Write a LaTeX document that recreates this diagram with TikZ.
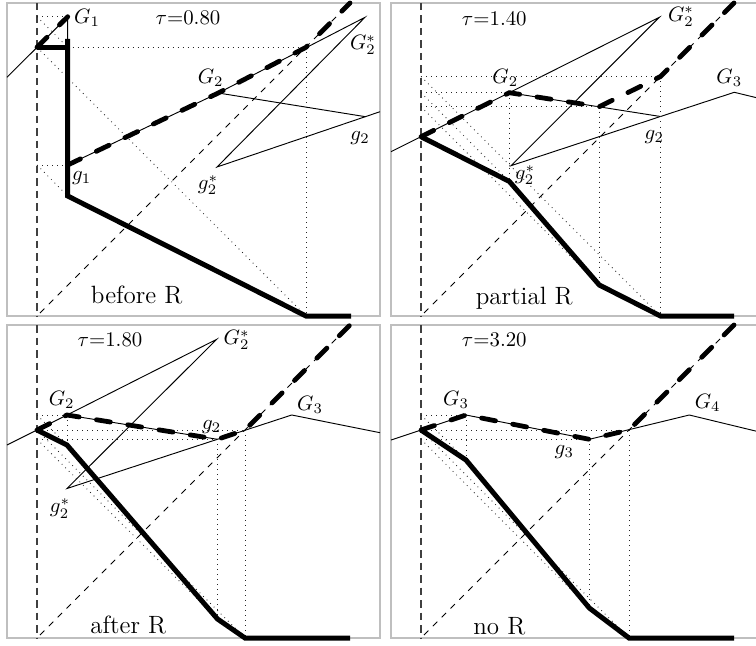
\documentclass[tikz,border=0pt]{standalone}
\usepackage{tikz}
\begin{document}
\begin{tikzpicture}[x=0.48pt,y=-0.48pt,
  framebox/.style={draw=black!25,line width=0.5pt},
  axisline/.style={black!75,line width=0.6pt,dash pattern=on 3.6pt off 2.4pt},
  diagline/.style={black,line width=0.4pt,dash pattern=on 3pt off 3pt},
  thinline/.style={black,line width=0.45pt},
  proj/.style={black!85,line width=0.4pt,dotted},
  upperline/.style={black,line width=2.3pt,dash pattern=on 6.8pt off 8.4pt,line cap=round},
  lowerline/.style={black,line width=2.4pt},
  lbl/.style={inner sep=0pt},
  captext/.style={inner sep=0pt,font=\large}]
\useasboundingbox (0,0) rectangle (756,645);
\clip (0,0) rectangle (756,645);

%%%%%%%%%%%%%%%% Panel 1
\draw[framebox] (7,3) rectangle (380,316);
\coordinate (p1top) at (37,3); \coordinate (p1bot) at (37,316);
\coordinate (p1d0) at (40,313); \coordinate (p1E) at (350,3);
\coordinate (p1W) at (7,77.3);
\coordinate (p1L) at (37,47.3);
\coordinate (p1G1) at (67.7,16.7);
\coordinate (p1g1) at (67.7,165);
\coordinate (p1G2) at (218.3,93);
\coordinate (p1K) at (306,47.3);
\coordinate (p1Gs) at (365,17.3);
\coordinate (p1gs) at (217,167);
\coordinate (p1g2) at (365.5,116.7);
\coordinate (p1R) at (380,111.7);
\coordinate (p1aG1) at (37,16.7);
\coordinate (p1ag1) at (37,165);
\coordinate (p1lG1) at (67.7,47.3);
\coordinate (p1lg1) at (67.7,196);
\coordinate (p1lK) at (306,316);
\coordinate (p1lE) at (351,316);
\coordinate (p1vt) at (67.7,39);
\draw[axisline] (p1top) -- (p1bot);
\draw[diagline] (p1d0) -- (p1E);
\draw[thinline] (p1W) -- (p1G1) -- (p1g1) -- (p1G2) -- (p1Gs) -- (p1gs) -- (p1R);
\draw[thinline] (p1G2) -- (p1g2);
\draw[proj] (p1aG1) -- (p1G1);
\draw[proj] (p1aG1) -- (p1lG1);
\draw[proj] (p1ag1) -- (p1g1);
\draw[proj] (p1ag1) -- (p1lg1);
\draw[proj] (p1lG1) -- (p1K);
\draw[proj] (p1L) -- (p1lK);
\draw[proj] (p1K) -- (p1lK);
\draw[lowerline] (p1L) -- (p1lG1);
\draw[lowerline] (p1vt) -- (p1lg1) -- (p1lK) -- (p1lE);
\draw[upperline] (p1L) -- (p1G1);
\draw[upperline] (p1g1) -- (p1G2) -- (p1K) -- (p1E);
\node[lbl] (t1G1) at (87,18) {$G_1$};
\node[lbl] (t1tau) at (188,18) {$\tau$=0.80};
\node[lbl] (t1G2) at (210.7,78) {$G_2$};
\node[lbl] (t1Gs) at (363,45) {$G_2^*$};
\node[lbl] (t1g2) at (360,138) {$g_2$};
\node[lbl] (t1gs) at (208,185) {$g_2^*$};
\node[lbl] (t1g1) at (81.7,178) {$g_1$};
\node[captext] (t1cap) at (136.7,295) {before R};

%%%%%%%%%%%%%%%% Panel 2
\draw[framebox] (391,3) rectangle (764,316);
\coordinate (p2top) at (421,3); \coordinate (p2bot) at (421,316);
\coordinate (p2d0) at (424,313); \coordinate (p2E) at (734,3);
\coordinate (p2W) at (391,151.7);
\coordinate (p2L) at (421,136.7);
\coordinate (p2G2) at (509.3,92.7);
\coordinate (p2P) at (599.3,106.7);
\coordinate (p2Q) at (660.5,76.5);
\coordinate (p2Gs) at (659.3,17.3);
\coordinate (p2gs) at (511,165.7);
\coordinate (p2g2) at (660.5,116.5);
\coordinate (p2G3) at (734.3,92.3);
\coordinate (p2R) at (770,101);
\coordinate (p2aG2) at (421,92.7);
\coordinate (p2aP) at (421,106.7);
\coordinate (p2aQ) at (421,76.5);
\coordinate (p2lG2) at (509.3,181.4);
\coordinate (p2lP) at (599.3,285);
\coordinate (p2lQ) at (660.5,316);
\coordinate (p2lE) at (734,316);
\draw[axisline] (p2top) -- (p2bot);
\draw[diagline] (p2d0) -- (p2E);
\draw[thinline] (p2W) -- (p2L) -- (p2G2) -- (p2Gs) -- (p2gs) -- (p2g2) -- (p2G3) -- (p2R);
\draw[thinline] (p2G2) -- (p2g2);
\draw[proj] (p2aG2) -- (p2G2);
\draw[proj] (p2aP) -- (p2P);
\draw[proj] (p2aQ) -- (p2Q);
\draw[proj] (p2aG2) -- (p2lG2);
\draw[proj] (p2aP) -- (p2lP);
\draw[proj] (p2aQ) -- (p2lQ);
\draw[proj] (p2G2) -- (p2lG2);
\draw[proj] (p2P) -- (p2lP);
\draw[proj] (p2Q) -- (p2lQ);
\draw[lowerline] (p2L) -- (p2lG2) -- (p2lP) -- (p2lQ) -- (p2lE);
\draw[upperline] (p2L) -- (p2G2) -- (p2P) -- (p2Q) -- (p2E);
\node[lbl] (t2tau) at (494.3,18.3) {$\tau$=1.40};
\node[lbl] (t2Gs) at (681,16.7) {$G_2^*$};
\node[lbl] (t2G2) at (505.3,78.3) {$G_2$};
\node[lbl] (t2G3) at (729.3,78.3) {$G_3$};
\node[lbl] (t2g2) at (654.3,137.3) {$g_2$};
\node[lbl] (t2gs) at (525,175) {$g_2^*$};
\node[captext] (t2cap) at (524.3,298.3) {partial R};

%%%%%%%%%%%%%%%% Panel 3
\draw[framebox] (7,325) rectangle (380,638);
\coordinate (p3top) at (37,325); \coordinate (p3bot) at (37,638);
\coordinate (p3d0) at (40,635); \coordinate (p3E) at (350,325);
\coordinate (p3W) at (7,445);
\coordinate (p3L) at (37,430);
\coordinate (p3G2) at (67,415);
\coordinate (p3g2) at (217.5,439.3);
\coordinate (p3Q) at (245,430);
\coordinate (p3Gs) at (216.7,339.3);
\coordinate (p3gs) at (67,488.5);
\coordinate (p3G3) at (291.7,415);
\coordinate (p3R) at (380,432.7);
\coordinate (p3aG2) at (37,415);
\coordinate (p3ag2) at (37,439.3);
\coordinate (p3lG2) at (67,445);
\coordinate (p3lg2) at (217.5,619);
\coordinate (p3lQ) at (245,638);
\coordinate (p3lE) at (350,638);
\draw[axisline] (p3top) -- (p3bot);
\draw[diagline] (p3d0) -- (p3E);
\draw[thinline] (p3W) -- (p3L) -- (p3G2) -- (p3Gs) -- (p3gs) -- (p3G3) -- (p3R);
\draw[thinline] (p3G2) -- (p3g2);
\draw[proj] (p3aG2) -- (p3G2);
\draw[proj] (p3ag2) -- (p3g2);
\draw[proj] (p3L) -- (p3Q);
\draw[proj] (p3aG2) -- (p3lG2);
\draw[proj] (p3ag2) -- (p3lg2);
\draw[proj] (p3L) -- (p3lQ);
\draw[proj] (p3G2) -- (p3lG2);
\draw[proj] (p3g2) -- (p3lg2);
\draw[proj] (p3Q) -- (p3lQ);
\draw[lowerline] (p3L) -- (p3lG2) -- (p3lg2) -- (p3lQ) -- (p3lE);
\draw[upperline] (p3L) -- (p3G2) -- (p3g2) -- (p3Q) -- (p3E);
\node[lbl] (t3tau) at (110,340) {$\tau$=1.80};
\node[lbl] (t3Gs) at (236.7,340) {$G_2^*$};
\node[lbl] (t3G2) at (61.7,400) {$G_2$};
\node[lbl] (t3G3) at (310,405) {$G_3$};
\node[lbl] (t3g2) at (211.7,426.7) {$g_2$};
\node[lbl] (t3gs) at (60,508.3) {$g_2^*$};
\node[captext] (t3cap) at (128.3,625) {after R};

%%%%%%%%%%%%%%%% Panel 4
\draw[framebox] (391,325) rectangle (764,638);
\coordinate (p4top) at (421,325); \coordinate (p4bot) at (421,638);
\coordinate (p4d0) at (424,635); \coordinate (p4E) at (734,325);
\coordinate (p4W) at (391,440);
\coordinate (p4L) at (421,430);
\coordinate (p4G3) at (466,415);
\coordinate (p4g3) at (589.3,439.3);
\coordinate (p4Q) at (629,430);
\coordinate (p4G4) at (689.3,415);
\coordinate (p4R) at (770,434.5);
\coordinate (p4aG3) at (421,415);
\coordinate (p4ag3) at (421,439.3);
\coordinate (p4lG3) at (466,460);
\coordinate (p4lg3) at (589.3,608);
\coordinate (p4lQ) at (629,638);
\coordinate (p4lE) at (734,638);
\draw[axisline] (p4top) -- (p4bot);
\draw[diagline] (p4d0) -- (p4E);
\draw[thinline] (p4W) -- (p4L) -- (p4G3) -- (p4g3) -- (p4G4) -- (p4R);
\draw[proj] (p4aG3) -- (p4G3);
\draw[proj] (p4ag3) -- (p4g3);
\draw[proj] (p4L) -- (p4Q);
\draw[proj] (p4aG3) -- (p4lG3);
\draw[proj] (p4ag3) -- (p4lg3);
\draw[proj] (p4L) -- (p4lQ);
\draw[proj] (p4G3) -- (p4lG3);
\draw[proj] (p4g3) -- (p4lg3);
\draw[proj] (p4Q) -- (p4lQ);
\draw[lowerline] (p4L) -- (p4lG3) -- (p4lg3) -- (p4lQ) -- (p4lE);
\draw[upperline] (p4L) -- (p4G3) -- (p4g3) -- (p4Q) -- (p4E);
\node[lbl] (t4tau) at (494.3,340) {$\tau$=3.20};
\node[lbl] (t4G3) at (456,400) {$G_3$};
\node[lbl] (t4G4) at (707.7,403.3) {$G_4$};
\node[lbl] (t4g3) at (564.3,451.7) {$g_3$};
\node[captext] (t4cap) at (499.3,626.7) {no R};
\end{tikzpicture}
\end{document}
